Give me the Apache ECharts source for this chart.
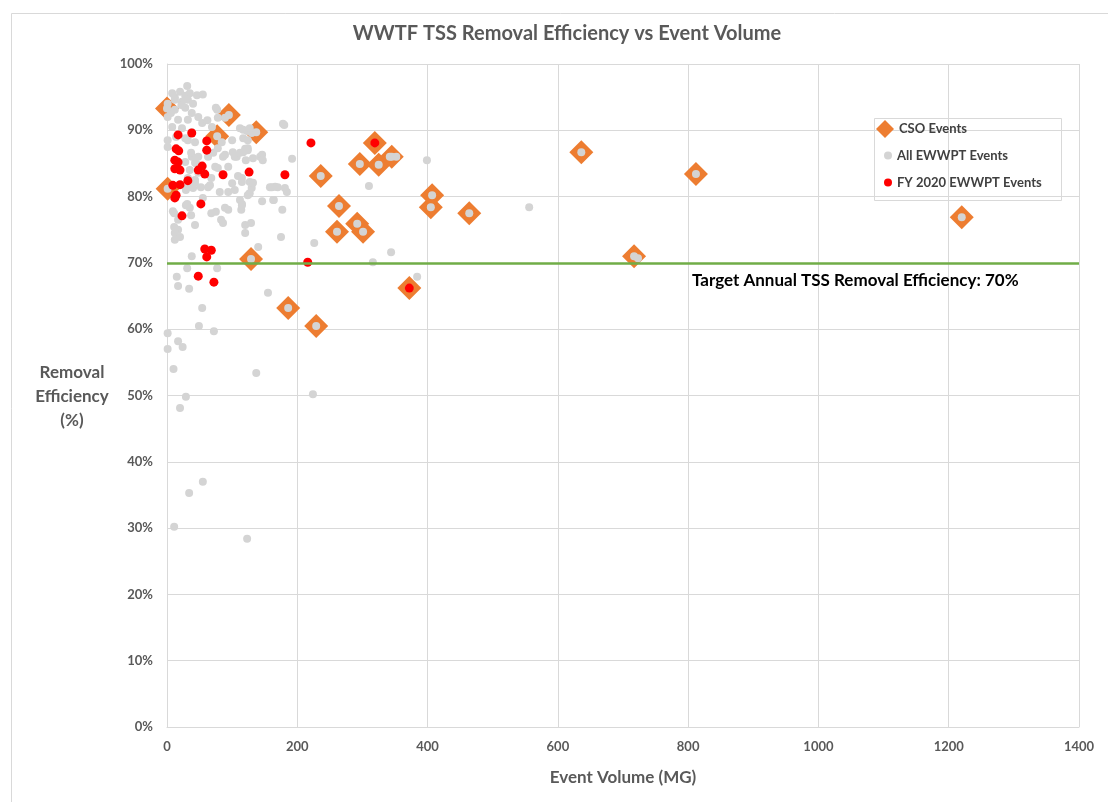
<!DOCTYPE html>
<html>
<head>
<meta charset="utf-8">
<script src="https://cdn.jsdelivr.net/npm/echarts@6/dist/echarts.min.js"></script>
<style>
html,body{margin:0;padding:0;background:#fff;}
#chart{width:1108px;height:802px;}
</style>
</head>
<body>
<div id="chart"></div>
<script>
// ---- Data (x = Event Volume MG, y = Removal Efficiency %) ----
const xTicks = [0, 200, 400, 600, 800, 1000, 1200, 1400];
const yTicks = [0, 10, 20, 30, 40, 50, 60, 70, 80, 90, 100];
const targetEfficiency = 70;

const csoEvents = [
  [0,93.3],[1,81.2],[95,92.3],[77,89.1],[137,89.7],[129,70.6],[186,63.2],[229,60.5],
  [236,83.1],[264,78.6],[261,74.7],[292,75.9],[301,74.7],[296,84.9],[319,88.1],[325,84.8],
  [345,86.0],[372,66.2],[405,78.4],[407,80.2],[464,77.5],[636,86.7],[717,71.0],[812,83.4],[1220,76.9]
];

const allEvents = [
  [31,96.7],[8,95.6],[20,95.8],[35,95.6],[46,95.3],[55,95.4],[12,95.0],[28,95.2],
  [1,94.0],[12,94.6],[23,94.3],[32,94.6],[40,94.0],
  [12,93.1],[28,93.4],[38,92.6],[22,93.8],
  [1,92.0],[17,91.6],[32,91.6],[48,92.0],[6,92.6],
  [77,93.1],[75,93.4],[89,91.9],[78,91.9],
  [54,91.1],[69,90.5],[62,91.5],
  [8,90.5],[23,90.3],[38,89.7],[14,89.0],[28,88.8],
  [178,91.0],[112,90.3],[123,89.9],[117,90.1],[127,90.3],[130,89.6],
  [100,88.5],[84,88.2],[32,88.5],[43,88.2],[1,88.5],[1,87.5],
  [78,87.3],[71,86.6],[101,86.7],[107,86.0],[120,87.2],[124,87.0],[86,86.0],
  [143,86.0],[146,86.3],[147,85.5],[192,85.7],
  [74,84.5],[28,85.2],[38,86.0],[45,85.0],
  [43,82.5],[32,81.4],[63,81.4],[100,82.0],[115,82.2],[130,81.3],[161,81.4],[170,81.4],[166,81.5],[181,81.3],[184,80.7],
  [37,86.6],[48,86.0],[43,85.1],[63,86.0],[89,86.3],[104,86.0],[112,86.6],[121,85.5],[132,85.8],
  [35,84.0],[48,83.6],[32,82.8],[43,82.1],[68,82.8],[78,84.3],[94,84.5],
  [109,83.1],[127,82.2],[132,82.1],
  [29,81.0],[40,81.3],[52,81.4],[66,81.7],[81,80.7],[94,80.7],[104,81.0],
  [112,79.5],[127,80.5],
  [9,77.8],[29,78.7],[35,78.3],[55,79.8],[75,77.7],[94,78.0],[83,76.5],[114,78.0],[120,75.7],[129,76.0],
  [37,77.2],[17,76.5],[43,75.7],
  [89,78.3],[115,78.9],[126,80.4],[146,79.3],[164,79.5],[177,78.0],[31,78.9],[68,77.5],[11,77.5],[86,76.0],
  [11,75.4],[17,75.0],[12,74.5],[20,73.9],[12,73.5],
  [120,74.5],[175,73.9],[140,72.4],[38,71.0],[31,69.2],[77,69.2],[15,67.9],[17,66.5],[34,66.1],[155,65.5],
  [117,88.8],[124,88.5],[117,86.7],[124,87.3],[115,82.8],[124,80.2],[158,81.4],[163,79.5],[115,78.7],[226,73.0],
  [310,81.6],[344,71.6],[316,70.1],[384,67.9],[399,85.5],[342,86.0],[352,86.0],[180,90.8],
  [556,78.4],[723,70.7],
  [54,63.2],[49,60.5],[72,59.7],[1,59.4],[17,58.2],[24,57.3],[1,57.0],[10,54.0],[137,53.4],
  [29,49.8],[20,48.1],[55,37.0],[34,35.3],[11,30.2],[123,28.4],[224,50.2],
  [0,93.3],[1,81.2],[95,92.3],[77,89.1],[137,89.7],[129,70.6],[186,63.2],[229,60.5],
  [236,83.1],[264,78.6],[261,74.7],[292,75.9],[301,74.7],[296,84.9],[319,88.1],[325,84.8],
  [345,86.0],[372,66.2],[405,78.4],[407,80.2],[464,77.5],[636,86.7],[717,71.0],[812,83.4],[1220,76.9]
];

const fy2020Events = [
  [17,89.3],[38,89.6],[61,88.4],[61,87.0],[14,87.2],[18,86.9],[12,85.5],[17,85.2],[20,84.0],[12,84.2],
  [48,84.0],[54,84.6],[58,83.4],[86,83.3],[126,83.7],[181,83.3],[32,82.4],[9,81.7],[20,81.8],[12,79.8],
  [14,80.2],[52,78.9],[23,77.1],[58,72.1],[68,71.9],[61,70.9],[48,68.0],[72,67.1],[221,88.1],[216,70.1],
  [319,88.1],[372,66.2]
];

// ---- Styles ----
const FONT = 'Lato, "Open Sans", sans-serif';
const AX = '#595959';
const GRID = '#d9d9d9';

const chart = echarts.init(document.getElementById('chart'), null, {renderer: 'canvas'});
chart.setOption({
  animation: false,
  backgroundColor: '#fff',
  title: {
    text: 'WWTF TSS Removal Efficiency vs Event Volume',
    left: 562, top: 19, textAlign: 'center',
    textStyle: {fontFamily: FONT, fontSize: 20, fontWeight: 'bold', color: AX}
  },
  grid: {left: 167, right: 29, top: 64, bottom: 75, containLabel: false},
  xAxis: {
    type: 'value', min: xTicks[0], max: xTicks[xTicks.length - 1], interval: 200,
    name: 'Event Volume (MG)', nameLocation: 'middle', nameGap: 42,
    nameTextStyle: {fontFamily: FONT, fontSize: 17, fontWeight: 'bold', color: AX},
    axisLine: {show: true, lineStyle: {color: GRID, width: 1}},
    axisTick: {show: false},
    axisLabel: {fontFamily: FONT, fontSize: 13, fontWeight: 'bold', color: AX, margin: 13,
                formatter: function (v) { return String(v); }},
    splitLine: {show: true, lineStyle: {color: GRID, width: 1}}
  },
  yAxis: {
    type: 'value', min: yTicks[0], max: yTicks[yTicks.length - 1], interval: 10,
    axisLine: {show: true, lineStyle: {color: GRID, width: 1}},
    axisTick: {show: false},
    axisLabel: {fontFamily: FONT, fontSize: 13, fontWeight: 'bold', color: AX, margin: 14, formatter: '{value}%'},
    splitLine: {show: true, lineStyle: {color: GRID, width: 1}}
  },
  legend: [
    {data: [{name: 'CSO Events', icon: 'diamond'}], left: 876, top: 120, orient: 'vertical', padding: 0,
     itemWidth: 18, itemHeight: 18,
     textStyle: {fontFamily: FONT, fontSize: 13, fontWeight: 'bold', color: '#404040'}},
    {data: [{name: 'All EWWPT Events', icon: 'circle'}], left: 884, top: 149, orient: 'vertical', padding: 0,
     itemWidth: 8, itemHeight: 8,
     textStyle: {fontFamily: FONT, fontSize: 13, fontWeight: 'bold', color: '#404040'}},
    {data: [{name: 'FY 2020 EWWPT Events', icon: 'circle'}], left: 884, top: 176, orient: 'vertical', padding: 0,
     itemWidth: 8, itemHeight: 8,
     textStyle: {fontFamily: FONT, fontSize: 13, fontWeight: 'bold', color: '#404040'}}
  ],
  graphic: [
    {type: 'rect', left: 9, top: 11, z: -10, silent: true,
     shape: {width: 1110, height: 800}, style: {fill: 'none', stroke: GRID, lineWidth: 1}},
    {type: 'rect', left: 872, top: 116, z: 10, silent: true,
     shape: {width: 187, height: 82}, style: {fill: 'none', stroke: GRID, lineWidth: 1}},
    {type: 'text', left: 27, top: 361, z: 10, silent: true,
     style: {text: 'Removal\nEfficiency\n(%)', fontFamily: FONT, fontSize: 17, fontWeight: 'bold',
             fill: AX, textAlign: 'center', lineHeight: 24, width: 90, x: 0}},
    {type: 'text', left: 692, top: 272, z: 10, silent: true,
     style: {text: 'Target Annual TSS Removal Efficiency: 70%', fontFamily: FONT, fontSize: 17,
             fontWeight: 'bold', fill: '#000'}}
  ],
  series: [
    {
      name: 'CSO Events', type: 'scatter', data: csoEvents, symbol: 'diamond', symbolSize: 24,
      itemStyle: {color: '#ED7D31', opacity: 1}, clip: false,
      markLine: {
        silent: true, symbol: 'none', label: {show: false},
        lineStyle: {color: '#70AD47', width: 2.5, type: 'solid', opacity: 1},
        data: [{yAxis: targetEfficiency}]
      }
    },
    {
      name: 'All EWWPT Events', type: 'scatter', data: allEvents, symbol: 'circle', symbolSize: 8,
      itemStyle: {color: '#D4D4D4', opacity: 1}, clip: false
    },
    {
      name: 'FY 2020 EWWPT Events', type: 'scatter', data: fy2020Events, symbol: 'circle', symbolSize: 9,
      itemStyle: {color: '#FF0000', opacity: 1}, clip: false
    }
  ]
});
</script>
</body>
</html>
